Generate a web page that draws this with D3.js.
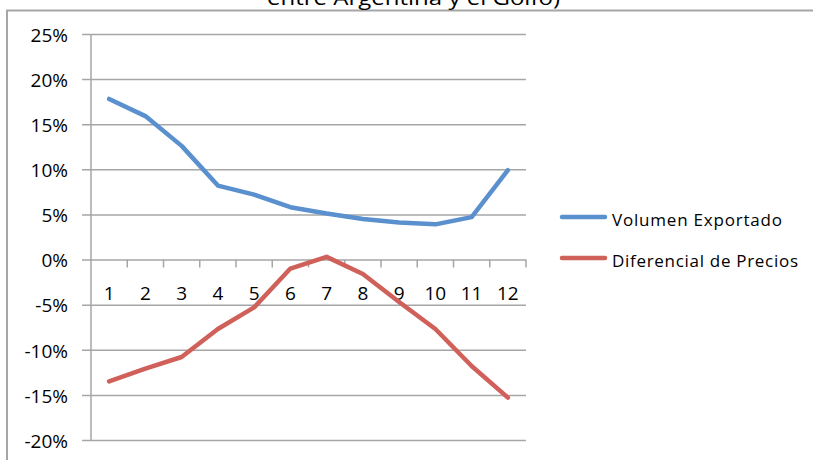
<!DOCTYPE html>
<html>
<head>
<meta charset="utf-8">
<script src="https://cdn.jsdelivr.net/npm/d3@7"></script>
<style>
  html, body { margin: 0; padding: 0; background: #fff; }
  svg { display: block; }
  text { font-family: "Open Sans", "Liberation Sans", sans-serif; fill: #000; }
</style>
</head>
<body>
<svg id="chart" width="813" height="460"></svg>
<script>
// Monthly series (share, in %)
const months = ["1", "2", "3", "4", "5", "6", "7", "8", "9", "10", "11", "12"];
const volumenExportado = [17.8, 15.9, 12.6, 8.2, 7.2, 5.8, 5.1, 4.5, 4.1, 3.9, 4.7, 9.9];
const diferencialPrecios = [-13.5, -12.1, -10.8, -7.7, -5.3, -1.0, 0.3, -1.6, -4.7, -7.7, -11.8, -15.3];
const yTicks = [25, 20, 15, 10, 5, 0, -5, -10, -15, -20];
const seriesNames = ["Volumen Exportado", "Diferencial de Precios"];
const seriesColors = ["#5990CD", "#D0605A"];
const titleText = "entre Argentina y el Golfo)";

const svg = d3.select("#chart");
const grid = "#a6a6a6";
const font = "'Open Sans', 'Liberation Sans', sans-serif";

// Outer chart frame (extends past the right and bottom edges)
svg.append("rect")
  .attr("x", 7).attr("y", 10.5)
  .attr("width", 830).attr("height", 470)
  .attr("fill", "none").attr("stroke", grid).attr("stroke-width", 2);

// Title (only its last line shows above the frame)
svg.append("text")
  .attr("x", 413.5).attr("y", 5)
  .attr("text-anchor", "middle")
  .attr("textLength", 293).attr("lengthAdjust", "spacingAndGlyphs")
  .style("font-size", "20px")
  .text(titleText);

const plot = { left: 91, right: 526, top: 34, bottom: 440 };

const x = d3.scaleBand().domain(months).range([plot.left, plot.right]).padding(0);
const y = d3.scaleLinear().domain([-20, 25]).range([plot.bottom, plot.top]);

// Horizontal gridlines with left tick marks
const yAxis = d3.axisLeft(y)
  .tickValues(yTicks)
  .tickSize(-(plot.right - plot.left))
  .tickFormat(d => d + "%");
const gy = svg.append("g")
  .attr("transform", `translate(${plot.left},0)`)
  .call(yAxis);
gy.select(".domain").remove();
gy.selectAll(".tick line")
  .attr("x1", -9)
  .attr("stroke", grid).attr("stroke-width", 1.5);
gy.selectAll(".tick text")
  .attr("x", -23)
  .attr("dy", "0.38em")
  .style("font-size", "19px")
  .style("font-family", font)
  .attr("fill", "#000");

// Vertical value axis line
svg.append("line")
  .attr("x1", plot.left).attr("x2", plot.left)
  .attr("y1", plot.top).attr("y2", plot.bottom)
  .attr("stroke", grid).attr("stroke-width", 1.5);

// Category axis crossing at 0 with ticks between categories
const boundaries = months.map(m => x(m)).concat([plot.right]);
const gx = svg.append("g");
gx.selectAll("line.tick")
  .data(boundaries.slice(1))
  .join("line")
  .attr("class", "tick")
  .attr("x1", d => d).attr("x2", d => d)
  .attr("y1", y(0)).attr("y2", y(0) + 8)
  .attr("stroke", grid).attr("stroke-width", 1.5);
gx.selectAll("text")
  .data(months)
  .join("text")
  .attr("x", d => x(d) + x.bandwidth() / 2)
  .attr("y", y(0) + 40)
  .attr("text-anchor", "middle")
  .style("font-size", "19px")
  .text(d => d);

// Series lines
const line = d3.line()
  .x((d, i) => x(months[i]) + x.bandwidth() / 2)
  .y(d => y(d));

[volumenExportado, diferencialPrecios].forEach((vals, k) => {
  svg.append("path")
    .datum(vals)
    .attr("d", line)
    .attr("fill", "none")
    .attr("stroke", seriesColors[k])
    .attr("stroke-width", 4.5)
    .attr("stroke-linejoin", "round")
    .attr("stroke-linecap", "round");
});

// Legend
const legendWidths = [170, 186];
const legend = svg.append("g");
seriesNames.forEach((name, k) => {
  const ly = 217 + k * 41;
  legend.append("line")
    .attr("x1", 562).attr("x2", 605)
    .attr("y1", ly).attr("y2", ly)
    .attr("stroke", seriesColors[k])
    .attr("stroke-width", 4.5)
    .attr("stroke-linecap", "round");
  legend.append("text")
    .attr("x", 612).attr("y", ly + 9)
    .attr("textLength", legendWidths[k]).attr("lengthAdjust", "spacing")
    .style("font-size", "17px")
    .text(name);
});
</script>
</body>
</html>
